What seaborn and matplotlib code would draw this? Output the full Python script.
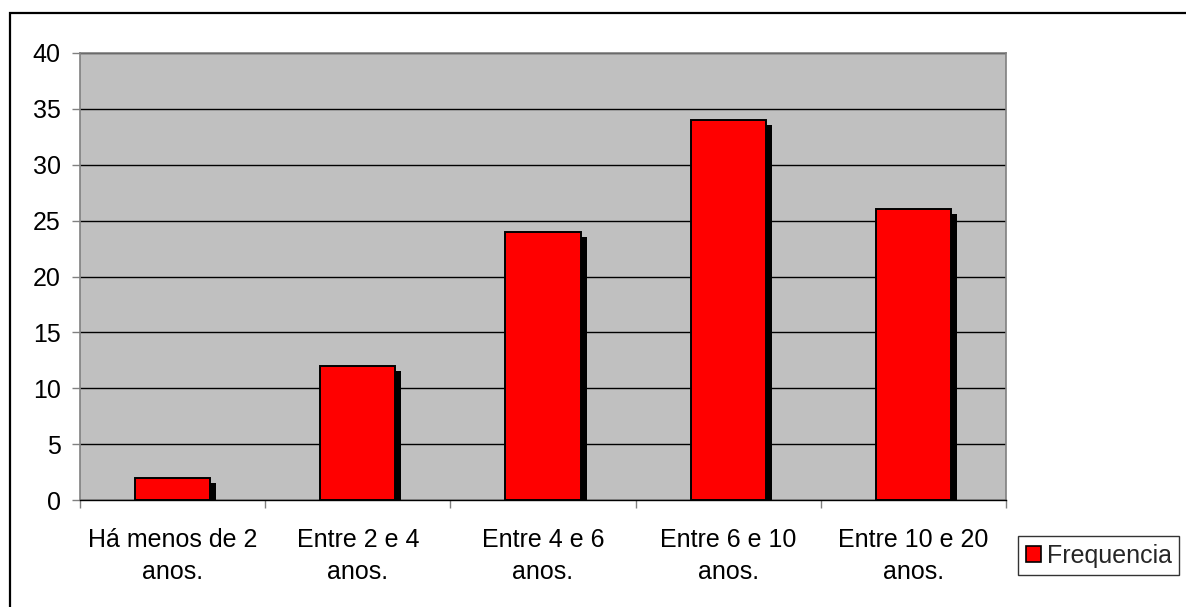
import matplotlib
matplotlib.use("Agg")
import matplotlib.pyplot as plt
from matplotlib.patches import Rectangle
from matplotlib.transforms import ScaledTranslation
import seaborn as sns
import pandas as pd

categories = ["Há menos de 2\nanos.", "Entre 2 e 4\nanos.", "Entre 4 e 6\nanos.",
              "Entre 6 e 10\nanos.", "Entre 10 e 20\nanos."]
frequencia = [2, 12, 24, 34, 26]
y_ticks = [0, 5, 10, 15, 20, 25, 30, 35, 40]
series_name = "Frequencia"

df = pd.DataFrame({"categoria": categories, "valor": frequencia})

sns.set_theme(style="white")
plt.rcParams["font.family"] = ["Liberation Sans", "DejaVu Sans"]
FS = 18

fig = plt.figure(figsize=(11.86, 6.07), dpi=100)
W, H = 1186, 607
ax = fig.add_axes([80 / W, 1 - 500 / H, (1006 - 80) / W, (500 - 53) / H])
ax.set_facecolor("#C0C0C0")

# horizontal gridlines
ax.set_axisbelow(True)
ax.yaxis.grid(True, color="black", linewidth=1.0)
ax.xaxis.grid(False)

bar_w = 0.405
# drop shadow: same bars, drawn black and shifted right/down
sns.barplot(data=df, x="categoria", y="valor", color="black", width=bar_w,
            saturation=1, ax=ax, linewidth=0, zorder=2)
n_shadow = len(ax.patches)
shift = ScaledTranslation(6 / 100, -5 / 100, fig.dpi_scale_trans)
for p in ax.patches[:n_shadow]:
    p.set_transform(ax.transData + shift)

sns.barplot(data=df, x="categoria", y="valor", color="#FF0000", width=bar_w,
            saturation=1, ax=ax, edgecolor="black", linewidth=1.4, zorder=3)

ax.set_ylim(0, 40)
ax.set_xlim(-0.5, len(categories) - 0.5)
ax.set_yticks(y_ticks)
ax.set_xlabel("")
ax.set_ylabel("")

# category labels centered, ticks at category boundaries
ax.set_xticks(range(len(categories)))
ax.set_xticklabels(categories, fontsize=FS, linespacing=1.45, color="black")
ax.tick_params(axis="x", which="major", length=0, pad=20)
ax.set_xticks([i - 0.5 for i in range(len(categories) + 1)], minor=True)
ax.tick_params(axis="x", which="minor", bottom=True, length=6, width=1,
               color="#808080", direction="out")
ax.tick_params(axis="y", left=True, length=6, width=1, color="#808080",
               direction="out", pad=8, labelsize=FS, labelcolor="black")

for side in ["left", "top", "right"]:
    ax.spines[side].set_visible(True)
    ax.spines[side].set_color("#808080")
    ax.spines[side].set_linewidth(1.2)
ax.spines["bottom"].set_color("black")
ax.spines["bottom"].set_linewidth(1.0)

# legend
handle = Rectangle((0, 0), 1, 1, facecolor="#FF0000", edgecolor="black", linewidth=1.2)
leg = fig.legend([handle], [series_name], loc="center left",
                 bbox_to_anchor=(1018 / W, 1 - 555.5 / H), fontsize=FS,
                 frameon=True, fancybox=False, edgecolor="black",
                 handlelength=0.6, handleheight=0.6, handletextpad=0.25,
                 borderpad=0.3, borderaxespad=0)
leg.get_frame().set_linewidth(1.0)

# chart-area border
fig.patches.append(Rectangle((9.5 / W, -0.05), 1.1, 1.05 - 13 / H,
                             transform=fig.transFigure, fill=False,
                             edgecolor="black", linewidth=1.6))

fig.savefig("out.png", dpi=100)
